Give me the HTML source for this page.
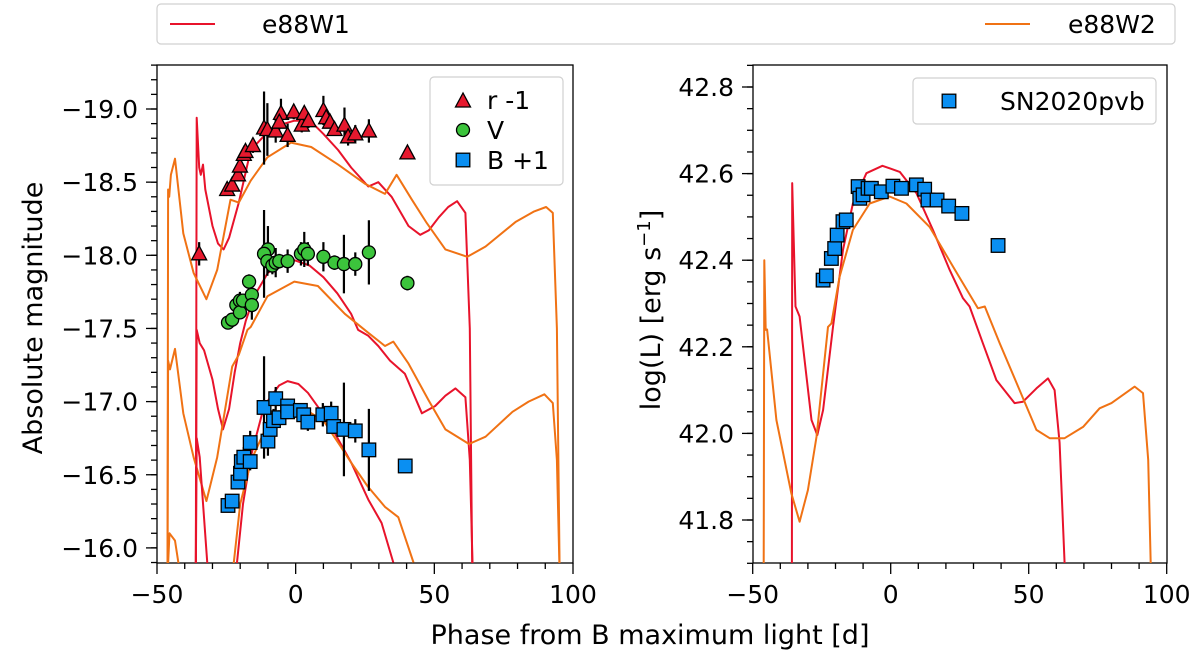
<!DOCTYPE html>
<html><head><meta charset="utf-8"><style>
html,body{margin:0;padding:0;background:#fff;width:1200px;height:660px;overflow:hidden}
svg{font-family:"DejaVu Sans","Liberation Sans",sans-serif}
</style></head><body>
<svg id="c" width="1200" height="660" viewBox="0 0 1200 660" xmlns="http://www.w3.org/2000/svg">
<defs>
<clipPath id="clipL"><rect x="157" y="65" width="416" height="498"/></clipPath>
<clipPath id="clipR"><rect x="753" y="65" width="414" height="498"/></clipPath>
</defs>
</svg>
<script>
// ---- data: observed photometry (plotted values) ----
const rPhase=[-34.8,-24.7,-22.9,-20.8,-20.1,-18.7,-18.1,-15.4,-11.4,-10.2,-7.2,-5.3,-5.9,-2.9,-0.7,2.2,3.1,4.6,10.0,11.0,12.4,14.0,17.6,18.9,21.5,26.4,40.3];
const rMag=[-18.01,-18.45,-18.48,-18.55,-18.61,-18.69,-18.71,-18.75,-18.87,-18.86,-18.85,-18.97,-18.91,-18.82,-18.98,-18.89,-18.97,-18.92,-18.99,-18.94,-18.91,-18.86,-18.89,-18.81,-18.83,-18.85,-18.70];
const rErr=[0.08,0.02,0.02,0.02,0.02,0.03,0.03,0.05,0.25,0.18,0.08,0.1,0.05,0.08,0.05,0.05,0.04,0.05,0.1,0.06,0.04,0.04,0.12,0.06,0.06,0.08,0.03];
const vPhase=[-24.4,-22.9,-21.4,-20.1,-20.1,-19.0,-16.8,-15.8,-15.8,-10.0,-11.4,-10.2,-8.4,-7.2,-5.9,-2.9,1.9,3.1,4.4,10.0,14.0,17.4,21.5,26.4,40.3];
const vMag=[-17.54,-17.56,-17.66,-17.69,-17.61,-17.69,-17.82,-17.73,-17.66,-18.04,-18.01,-17.96,-17.93,-17.95,-17.96,-17.96,-18.01,-18.04,-18.01,-17.99,-17.95,-17.94,-17.94,-18.02,-17.81];
const vErr=[0.03,0.03,0.05,0.06,0.04,0.04,0.05,0.04,0.1,0.16,0.3,0.1,0.06,0.1,0.05,0.08,0.08,0.12,0.08,0.1,0.05,0.2,0.08,0.22,0.05];
const bPhase=[-24.4,-22.9,-20.8,-19.9,-19.6,-18.7,-16.4,-16.4,-10.0,-9.2,-8.0,-11.4,-7.2,-6.0,-2.9,-2.9,1.7,2.9,4.4,9.8,12.8,13.7,17.4,21.5,26.4,39.5];
const bMag=[-16.29,-16.32,-16.45,-16.51,-16.59,-16.62,-16.72,-16.59,-16.73,-16.81,-16.87,-16.96,-17.02,-16.89,-16.97,-16.93,-16.94,-16.91,-16.86,-16.91,-16.92,-16.83,-16.81,-16.80,-16.67,-16.56];
const bErr=[0.03,0.03,0.04,0.05,0.05,0.07,0.08,0.06,0.1,0.1,0.08,0.35,0.08,0.05,0.05,0.05,0.05,0.05,0.06,0.08,0.08,0.05,0.32,0.08,0.28,0.03];
const lPhase=[-24.5,-23.3,-21.5,-20.3,-19.4,-17.3,-16.1,-11.8,-11.2,-10.0,-8.2,-7.0,-3.4,0.8,3.9,9.3,12.3,13.5,16.8,21.0,25.8,38.9];
const lLum=[42.354,42.364,42.404,42.427,42.458,42.489,42.493,42.570,42.543,42.551,42.566,42.566,42.558,42.571,42.566,42.574,42.564,42.539,42.539,42.525,42.508,42.434];
// ---- models e88W1 (red) / e88W2 (orange) ----
const w1rPh=[-36.0,-35.7,-34.8,-34.2,-33.4,-32.6,-30,-28,-26,-24,-20.5,-16.2,-10.2,-4,-0.5,3,6.8,10,15.3,20,26.2,29.8,34.6,40.7,44.9,48,51.6,55,58.2,61.2,62.8,63.7];
const w1rMg=[-15.8,-18.94,-18.6,-18.55,-18.62,-18.45,-18.2,-18.08,-18.04,-18.12,-18.36,-18.72,-18.84,-18.9,-18.92,-18.92,-18.89,-18.83,-18.72,-18.6,-18.47,-18.5,-18.4,-18.2,-18.14,-18.17,-18.26,-18.33,-18.37,-18.29,-17.5,-15.8];
const w2rPh=[-46.2,-46.0,-45.6,-45.0,-43.5,-40.5,-36.8,-32.2,-28.3,-23.5,-20.5,-16.2,-10.2,-1.7,5.6,15.3,24.9,32.2,36.4,41.9,47.3,54.0,61.9,68.5,79.4,86,90.3,92.7,94.2,95.2];
const w2rMg=[-15.8,-18.45,-18.4,-18.55,-18.66,-18.15,-17.88,-17.70,-17.90,-18.38,-18.36,-18.51,-18.67,-18.77,-18.74,-18.62,-18.49,-18.42,-18.55,-18.38,-18.22,-18.04,-17.99,-18.06,-18.23,-18.3,-18.33,-18.29,-17.5,-15.8];
const w1vPh=[-36.0,-35.7,-34.6,-33,-30,-28,-26.2,-24,-22,-20,-18,-15,-10,-5,-1,5,10,15,20,22.5,26.2,29.8,34,39.4,45.5,50.3,54,57.6,61.2,62.8,63.9];
const w1vMg=[-15.8,-17.49,-17.40,-17.35,-17.15,-16.95,-16.81,-16.95,-17.2,-17.4,-17.55,-17.72,-17.88,-17.95,-17.97,-17.93,-17.85,-17.74,-17.6,-17.49,-17.45,-17.38,-17.28,-17.19,-16.92,-16.97,-17.04,-17.09,-17.03,-16.6,-15.8];
const w2vPh=[-46.2,-46.0,-45.3,-43.5,-40.5,-36.8,-32.2,-28.3,-22.9,-20.5,-17.4,-16.2,-10.2,-0.5,8,17.7,26.2,32.2,35.2,40.7,47.9,54.0,62.5,68.5,78.2,84,89.7,92.7,94.2,95.2];
const w2vMg=[-15.8,-17.28,-17.22,-17.36,-16.92,-16.62,-16.32,-16.62,-17.24,-17.32,-17.49,-17.51,-17.72,-17.82,-17.79,-17.60,-17.47,-17.38,-17.41,-17.26,-17.01,-16.81,-16.71,-16.76,-16.93,-17.0,-17.05,-16.99,-16.6,-15.8];
const w1bPh=[-36.0,-35.7,-34.6,-33,-31.5,-21.7,-19,-16.2,-11.4,-6,-2.9,1,4.4,11.6,20.1,26.2,31.0,35.2];
const w1bMg=[-15.8,-16.75,-16.62,-16.2,-15.8,-15.8,-16.3,-16.62,-16.97,-17.11,-17.14,-17.12,-17.06,-16.87,-16.58,-16.33,-16.17,-15.9];
const w2bPh=[-46.2,-45.5,-43.5,-41.5,-22.9,-20,-16,-10,-3,3,10,16,20.1,26,32.2,37,42.5];
const w2bMg=[-15.8,-16.1,-16.05,-15.8,-15.8,-16.3,-16.6,-16.85,-16.96,-16.95,-16.87,-16.7,-16.58,-16.42,-16.28,-16.21,-15.9];
const w1LPh=[-35.8,-35.7,-34.5,-33,-30.5,-28.7,-26.6,-24.5,-20.9,-17.3,-13.7,-8.8,-3.0,3.3,9.3,15.3,21.4,26.2,28.6,33.4,38.3,44.9,47.9,52.8,57.0,59.4,61.2,63.0];
const w1LL=[41.70,42.578,42.293,42.270,42.131,42.031,41.996,42.054,42.246,42.424,42.531,42.601,42.618,42.604,42.555,42.470,42.377,42.312,42.293,42.208,42.123,42.070,42.073,42.104,42.127,42.100,41.978,41.70];
const w2LPh=[-46.0,-45.8,-45.3,-44.8,-41.4,-39.0,-36.0,-33.0,-30.0,-26.9,-22.7,-21.5,-18.5,-13.7,-7.6,-0.4,5.7,14.1,22.6,31.6,34.1,39.5,46.7,52.8,57.6,63.0,69.7,75.7,80.0,88.4,91.4,93.3,94.2];
const w2LL=[41.70,42.40,42.239,42.24,42.031,41.955,41.862,41.796,41.869,41.992,42.246,42.254,42.362,42.470,42.531,42.547,42.531,42.477,42.385,42.289,42.293,42.208,42.100,42.008,41.989,41.989,42.015,42.058,42.070,42.108,42.093,41.939,41.70];
const xTicks=[-50,0,50,100];
const yTicksL=[-19.0,-18.5,-18.0,-17.5,-17.0,-16.5,-16.0];
const yTicksR=[42.8,42.6,42.4,42.2,42.0,41.8];

const svg=document.getElementById('c');
const NS='http://www.w3.org/2000/svg';
function mk(tag,attrs,parent){const e=document.createElementNS(NS,tag);for(const k in attrs)e.setAttribute(k,attrs[k]);(parent||svg).appendChild(e);return e;}
const L={x0:157,x1:573,y0:65,y1:563};
const R={x0:753,x1:1167,y0:65,y1:563};
const xL=p=>157+(p+50)*(416/150);
const xR=p=>752.7+(p+50)*(414/150);
const yL=m=>109+(m+19.0)*146.3;
const yR=l=>87+(42.8-l)*433;
const RED='#e8132b', ORG='#f07214';
const FS=25, TFS=27;

function line(xs,ys,fx,fy,col,clip,name){
  let d='';for(let i=0;i<xs.length;i++){d+=(i?'L':'M')+fx(xs[i]).toFixed(1)+','+fy(ys[i]).toFixed(1);}
  const p=mk('path',{d:d,fill:'none',stroke:col,'stroke-width':2,'stroke-linejoin':'round','clip-path':'url(#'+clip+')'});
  
  
}
function errbars(xs,ys,es,fx,fy,name){
  const g=mk('g',{'clip-path':'url(#clipL)'});
  
  
  for(let i=0;i<xs.length;i++){
    mk('line',{x1:fx(xs[i]),x2:fx(xs[i]),y1:fy(ys[i]-es[i]),y2:fy(ys[i]+es[i]),stroke:'#000','stroke-width':2.2},g);
  }
}
function marker(type,cx,cy,fill,parent,name){
  let e;
  if(type==='tri') e=mk('polygon',{points:`${cx},${cy-8} ${cx-7.5},${cy+6} ${cx+7.5},${cy+6}`,fill:fill,stroke:'#000','stroke-width':1.3},parent);
  else if(type==='circ') e=mk('circle',{cx:cx,cy:cy,r:6.5,fill:fill,stroke:'#000','stroke-width':1.3},parent);
  else e=mk('rect',{x:cx-6.8,y:cy-6.8,width:13.6,height:13.6,fill:fill,stroke:'#000','stroke-width':1.3},parent);
  
  
  return e;
}
function axes(A,fx,fy,xt,yt,ymin,ymax,ystep,pname){
  const g=mk('g',{});
  
  
  mk('rect',{x:A.x0,y:A.y0,width:A.x1-A.x0,height:A.y1-A.y0,fill:'none',stroke:'#000','stroke-width':1.3},g);
  for(let v=-50;v<=100;v+=10){const x=fx(v);const maj=v%50===0;mk('line',{x1:x,x2:x,y1:A.y1,y2:A.y1+(maj?11:6),stroke:'#000','stroke-width':1.3},g);}
  xt.forEach(v=>{const t=mk('text',{x:fx(v),y:A.y1+40,'text-anchor':'middle','font-size':FS,fill:'#000'},g);t.textContent=(v<0?'\u2212':'')+Math.abs(v);
    });
  for(let v=ymin;v<=ymax+1e-9;v+=ystep){const y=fy(v);if(y<A.y0-0.5||y>A.y1+0.5)continue;mk('line',{x1:A.x0,x2:A.x0-6,y1:y,y2:y,stroke:'#000','stroke-width':1.3},g);}
  yt.forEach(v=>{const y=fy(v);mk('line',{x1:A.x0,x2:A.x0-11,y1:y,y2:y,stroke:'#000','stroke-width':1.3},g);
    const t=mk('text',{x:A.x0-19,y:y+9,'text-anchor':'end','font-size':FS,fill:'#000'},g);t.textContent=(v<0?'\u2212':'')+Math.abs(v).toFixed(1);
    });
}
axes(L,xL,yL,xTicks,yTicksL,-19.3,-15.9,0.1,'left');
axes(R,xR,yR,xTicks,yTicksR,41.70,42.85,0.05,'right');

line(w1rPh,w1rMg,xL,yL,RED,'clipL','e88w1-r-curve');
line(w2rPh,w2rMg,xL,yL,ORG,'clipL','e88w2-r-curve');
line(w1vPh,w1vMg,xL,yL,RED,'clipL','e88w1-v-curve');
line(w2vPh,w2vMg,xL,yL,ORG,'clipL','e88w2-v-curve');
line(w1bPh,w1bMg,xL,yL,RED,'clipL','e88w1-b-curve');
line(w2bPh,w2bMg,xL,yL,ORG,'clipL','e88w2-b-curve');
line(w1LPh,w1LL,xR,yR,RED,'clipR','e88w1-lum-curve');
line(w2LPh,w2LL,xR,yR,ORG,'clipR','e88w2-lum-curve');

errbars(rPhase,rMag,rErr,xL,yL,'r-error-bars');
errbars(vPhase,vMag,vErr,xL,yL,'v-error-bars');
errbars(bPhase,bMag,bErr,xL,yL,'b-error-bars');
const gr=mk('g',{});
rPhase.forEach((p,i)=>marker('tri',xL(p),yL(rMag[i]),'#e6192e',gr,'r-point'));
const gv=mk('g',{});
vPhase.forEach((p,i)=>marker('circ',xL(p),yL(vMag[i]),'#3cc43c',gv,'v-point'));
const gb=mk('g',{});
bPhase.forEach((p,i)=>marker('sq',xL(p),yL(bMag[i]),'#0a8ff2',gb,'b-point'));
const gl=mk('g',{});
lPhase.forEach((p,i)=>marker('sq',xR(p),yR(lLum[i]),'#0a8ff2',gl,'luminosity-point'));

const lg1=mk('g',{});
mk('rect',{x:430,y:77,width:133,height:108,rx:4,fill:'#fff','fill-opacity':0.85,stroke:'#d0d0d0','stroke-width':1.2},lg1);
marker('tri',463,101,'#e6192e',lg1,'legend-r-marker');
marker('circ',463,130,'#3cc43c',lg1,'legend-v-marker');
marker('sq',463,160,'#0a8ff2',lg1,'legend-b-marker');
[['r -1',109],['V',139],['B +1',169]].forEach(a=>{const t=mk('text',{x:487,y:a[1],'font-size':FS},lg1);t.textContent=a[0];});
const lg2=mk('g',{});
mk('rect',{x:913,y:78,width:243,height:46,rx:4,fill:'#fff','fill-opacity':0.85,stroke:'#d0d0d0','stroke-width':1.2},lg2);
marker('sq',949,101,'#0a8ff2',lg2,'legend-sn-marker');
const t2=mk('text',{x:1000,y:110,'font-size':FS},lg2);t2.textContent='SN2020pvb';

const lg3=mk('g',{});
mk('rect',{x:157,y:4,width:1018,height:40,rx:4,fill:'#fff',stroke:'#d0d0d0','stroke-width':1.2},lg3);
mk('line',{x1:170,x2:215,y1:24,y2:24,stroke:RED,'stroke-width':2},lg3);
const t3=mk('text',{x:262,y:33,'font-size':FS},lg3);t3.textContent='e88W1';
mk('line',{x1:985,x2:1030,y1:24,y2:24,stroke:ORG,'stroke-width':2},lg3);
const t4=mk('text',{x:1068,y:33,'font-size':FS},lg3);t4.textContent='e88W2';

const yt1=mk('text',{x:0,y:0,'font-size':TFS,'text-anchor':'middle',transform:'translate(42,318) rotate(-90)'});yt1.textContent='Absolute magnitude';

const yt2=mk('text',{x:0,y:0,'font-size':TFS,'text-anchor':'middle',transform:'translate(660,310) rotate(-90)'});
yt2.innerHTML='log(L) [erg s<tspan dy="-10" font-size="18">\u22121</tspan><tspan dy="10">]</tspan>';

const xt=mk('text',{x:650,y:644,'font-size':TFS,'text-anchor':'middle'});xt.textContent='Phase from B maximum light [d]';

</script>
</body></html>
